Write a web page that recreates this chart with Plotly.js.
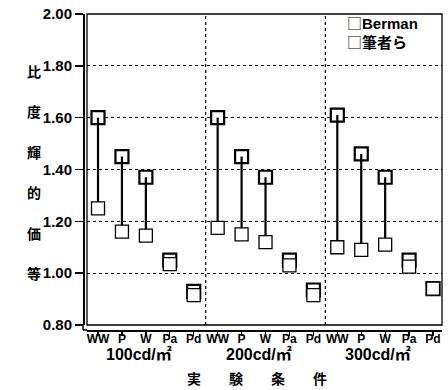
<!DOCTYPE html>
<html>
<head>
<meta charset="utf-8">
<script src="https://cdn.plot.ly/plotly-3.0.1.min.js"></script>
<style>html,body{margin:0;padding:0;background:#fff;}#chart{width:448px;height:390px;}</style>
</head>
<body>
<div id="chart"></div>
<script>
// ---- data ----
const categories = ['WW', 'P', 'W', 'Pa', 'Pd'];
const groups = ['100cd/㎡', '200cd/㎡', '300cd/㎡'];
const bermanValues = [1.60, 1.45, 1.37, 1.05, 0.93,
                      1.60, 1.45, 1.37, 1.05, 0.935,
                      1.61, 1.46, 1.37, 1.05, 0.94];
const authorValues = [1.25, 1.16, 1.145, 1.035, 0.915,
                      1.175, 1.15, 1.12, 1.03, 0.915,
                      1.10, 1.09, 1.11, 1.025, 0.94];
const seriesNames = ['Berman', '筆者ら'];
const yTicks = [0.8, 1.0, 1.2, 1.4, 1.6, 1.8, 2.0];
const yTitleChars = ['等', '価', '的', '輝', '度', '比']; // bottom to top
const xTitle = '実　　験　　条　　件';

// ---- build ----
const idx = [];
const tickText = [];
groups.forEach((g, gi) => categories.forEach((c, ci) => { idx.push(gi * categories.length + ci); tickText.push(c); }));

const segX = [], segY = [];
idx.forEach(i => { segX.push(i, i, null); segY.push(bermanValues[i], authorValues[i], null); });

const bold = {family: 'Liberation Sans, Arial, sans-serif', weight: 700, color: '#000'};
const cjk = {family: 'Liberation Sans, Noto Sans CJK JP, sans-serif', weight: 700, color: '#000'};

const traces = [
  {x: idx, y: bermanValues, type: 'scatter', mode: 'markers', name: seriesNames[0],
   marker: {symbol: 'square', size: 13, color: '#fff', line: {color: '#000', width: 2.2}}, showlegend: false},
  {x: segX, y: segY, type: 'scatter', mode: 'lines', line: {color: '#000', width: 2.2}, showlegend: false, hoverinfo: 'skip'},
  {x: idx, y: authorValues, type: 'scatter', mode: 'markers', name: seriesNames[1],
   marker: {symbol: 'square', size: 13, color: '#fff', line: {color: '#000', width: 1.3}}, showlegend: false}
];

const W = 448, H = 390, ml = 83, mr = 6, mt = 14, mb = 60;
const pw = W - ml - mr, ph = H - mt - mb;
const px = v => (v - ml) / pw;
const py = v => (H - mb - v) / ph;

const shapes = [
  {type: 'rect', xref: 'x domain', yref: 'y domain', x0: 0, x1: 1, y0: 0, y1: 1, line: {color: '#000', width: 1.3}},
  {type: 'line', xref: 'paper', yref: 'paper', x0: 0, x1: 0, y0: 0, y1: 5 / ph, line: {color: '#000', width: 1.5}},
  {type: 'line', xref: 'paper', yref: 'paper', x0: 0, x1: 4 / pw, y0: 0, y1: 0, line: {color: '#000', width: 1.5}}
];
for (let g = 1; g < groups.length; g++) {
  shapes.push({type: 'line', xref: 'x', yref: 'y domain', x0: g * categories.length - 0.5, x1: g * categories.length - 0.5,
               y0: 0, y1: 1, line: {color: '#000', width: 1.2, dash: 'dot'}});
}

const annotations = [];
groups.forEach((g, gi) => annotations.push({
  text: g, xref: 'x', yref: 'paper', x: gi * categories.length + (categories.length - 1) / 2, xshift: -7,
  y: py(354), yanchor: 'middle', showarrow: false, borderpad: 0, font: Object.assign({size: 16}, cjk)
}));
annotations.push({text: xTitle, xref: 'paper', yref: 'paper', x: px(257), y: py(378), yanchor: 'middle',
  showarrow: false, font: {family: 'Noto Sans CJK JP, sans-serif', weight: 700, size: 14, color: '#000'}});
yTitleChars.forEach((ch, i) => annotations.push({
  text: ch, xref: 'paper', yref: 'y', x: px(26), y: 1.0 + i * 0.156, showarrow: false, borderpad: 0,
  font: {family: 'Noto Sans CJK JP, sans-serif', weight: 700, size: 14, color: '#000'}
}));
seriesNames.forEach((n, i) => annotations.push({
  text: '<span style="font-family:Noto Sans CJK JP;font-weight:400">□</span>' + n,
  xref: 'paper', yref: 'paper', x: px(345), y: py(22 + i * 19), xanchor: 'left', yanchor: 'middle',
  showarrow: false, font: Object.assign({size: 15}, cjk)
}));

const layout = {
  width: W, height: H,
  margin: {l: ml, r: mr, t: mt, b: mb, pad: 0},
  paper_bgcolor: '#fff', plot_bgcolor: '#fff',
  showlegend: false,
  xaxis: {
    domain: [4 / pw, 1], anchor: 'free', position: 0,
    range: [-0.46, 14.375],
    tickmode: 'array', tickvals: idx, ticktext: tickText,
    ticks: 'outside', ticklen: 4, tickwidth: 1.3, tickcolor: '#000',
    ticklabelstandoff: -7,
    showline: true, linecolor: '#000', linewidth: 1.5,
    showgrid: false, zeroline: false,
    tickfont: Object.assign({size: 12}, bold)
  },
  yaxis: {
    domain: [5 / ph, 1], anchor: 'free', position: 0,
    range: [0.8, 2.0],
    tickmode: 'array', tickvals: yTicks, ticktext: yTicks.map(v => v.toFixed(2)),
    ticks: 'outside', ticklen: 8, tickwidth: 1.5, tickcolor: '#000',
    showline: true, linecolor: '#000', linewidth: 1.5,
    showgrid: true, gridcolor: '#000', griddash: 'dot', gridwidth: 1.2, zeroline: false,
    tickfont: Object.assign({size: 15}, bold)
  },
  shapes: shapes,
  annotations: annotations
};

Plotly.newPlot('chart', traces, layout, {staticPlot: true, displayModeBar: false});
</script>
</body>
</html>
